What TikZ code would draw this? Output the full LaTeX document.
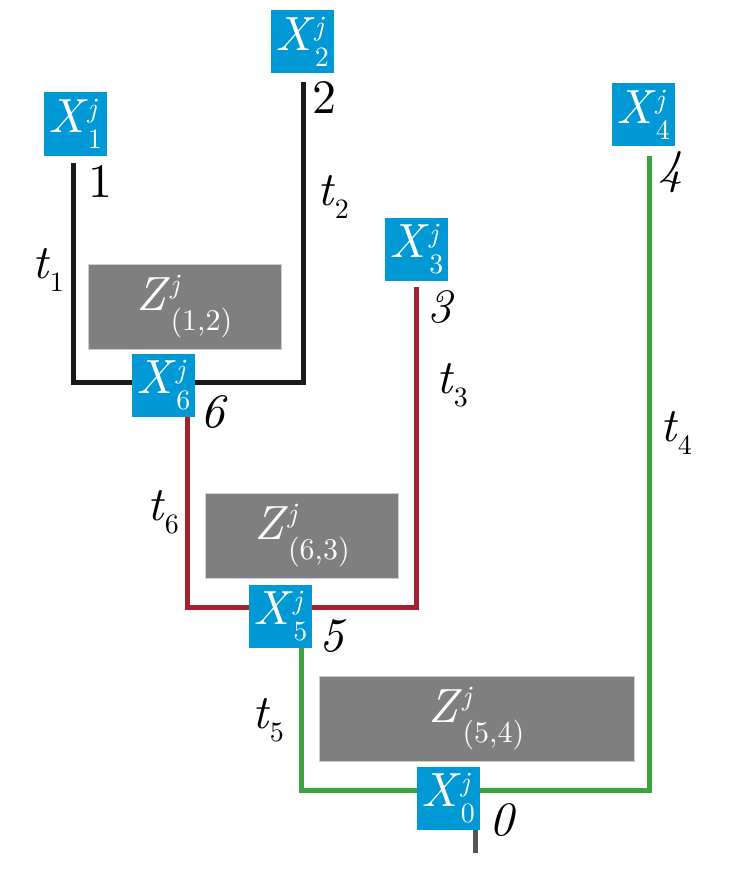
\documentclass[tikz,border=0pt]{standalone}
\usepackage{fontspec}
\setmainfont{lmroman10-regular.otf}[
  ItalicFont=lmroman10-italic.otf,
  BoldFont=lmroman10-bold.otf
]
\usetikzlibrary{
  positioning,
  backgrounds,  % Predefined layer named "background"
}
\definecolor{nodeblue}{HTML}{0099D5}
\definecolor{zgray}{HTML}{7F7F7F}
\definecolor{branchred}{HTML}{A3202F}
\definecolor{branchgreen}{HTML}{3BA53D}
\definecolor{branchblack}{HTML}{1A1A1A}
\definecolor{stubgray}{HTML}{555555}
\newcommand{\bigfont}{\rmfamily\fontsize{48}{48}\selectfont}
\newcommand{\scrfont}{\fontsize{28}{28}\selectfont}
\newcommand{\zscrfont}{\fontsize{30}{30}\selectfont}
\newcommand{\xj}[1]{\textit{X}\rlap{\raisebox{15pt}{\scrfont\textit{j}}}\raisebox{-16pt}{\scrfont #1}}
\newcommand{\zj}[1]{\textit{Z}\rlap{\raisebox{17pt}{\scrfont\textit{j}}}\raisebox{-20pt}{\zscrfont #1}}
\newcommand{\tlab}[1]{\textit{t}\raisebox{-13pt}{\scrfont #1}}
\tikzset{
  x=1pt,
  y=-1pt,
  font=\bigfont,
  xbox/.style={
    fill=nodeblue,
    text=white,
    inner sep=0pt,
    minimum width=63pt,
    minimum height=63pt,
    rectangle
  },
  zbox/.style={
    fill=zgray,
    draw=black!20,
    line width=0.6pt,
    text=white,
    inner sep=0pt,
    minimum width=193pt,
    minimum height=85pt,
    rectangle
  },
  branch/.style={
    line width=5pt,
    line join=miter,
    line cap=butt
  },
  lbl/.style={
    inner sep=0pt
  }
}
\begin{document}
\begin{tikzpicture}
\useasboundingbox (0,0) rectangle (746,888);
% end points and corners of the branches
\coordinate (e1) at (73,163);
\coordinate (e2) at (303,82);
\coordinate (e3) at (416,287);
\coordinate (e4) at (649,156);
\coordinate (c6l) at (73,382);
\coordinate (c6r) at (303,382);
\coordinate (e6) at (187,417);
\coordinate (c5l) at (187,607);
\coordinate (c5r) at (416,607);
\coordinate (e5) at (301,647);
\coordinate (c0l) at (301,790);
\coordinate (c0r) at (649,790);
\coordinate (e0) at (475,830);
\coordinate (root) at (475,853);

\draw[branch,branchblack] (e1) -- (c6l) -- (c6r) -- (e2);
\draw[branch,branchred] (e6) -- (c5l) -- (c5r) -- (e3);
\draw[branch,branchgreen] (e5) -- (c0l) -- (c0r) -- (e4);
\draw[branch,stubgray] (e0) -- (root);

\node[zbox] (z12) at (184.5,306.5) {\zj{(1,2)}};
\node[zbox] (z63) at (302,535.5) {\zj{(6,3)}};
\node[zbox,minimum width=315pt] (z54) at (476.5,718.5) {\zj{(5,4)}};

\node[xbox] (x1) at (75,124) {\xj{1}};
\node[xbox] (x2) at (302,42) {\xj{2}};
\node[xbox] (x3) at (416.5,249) {\xj{3}};
\node[xbox] (x4) at (643,114.5) {\xj{4}};
\node[xbox] (x6) at (163.5,385.5) {\xj{6}};
\node[xbox] (x5) at (280.5,616) {\xj{5}};
\node[xbox] (x0) at (448,798) {\xj{0}};

\node[lbl] (n1) at (100,182) {1};
\node[lbl] (n2) at (324,98) {2};
\node[lbl] (n3) at (441,307) {\textit{3}};
\node[lbl] (n4) at (671,172) {\textit{4}};
\node[lbl] (n6) at (214,412) {\textit{6}};
\node[lbl] (n5) at (333,636) {\textit{5}};
\node[lbl] (n0) at (503,820) {\textit{0}};

\node[lbl] (t1) at (48,270) {\tlab{1}};
\node[lbl] (t2) at (333,197) {\tlab{2}};
\node[lbl] (t3) at (452,385) {\tlab{3}};
\node[lbl] (t4) at (676,433) {\tlab{4}};
\node[lbl] (t6) at (163,512) {\tlab{6}};
\node[lbl] (t5) at (268,720) {\tlab{5}};
\end{tikzpicture}
\end{document}
